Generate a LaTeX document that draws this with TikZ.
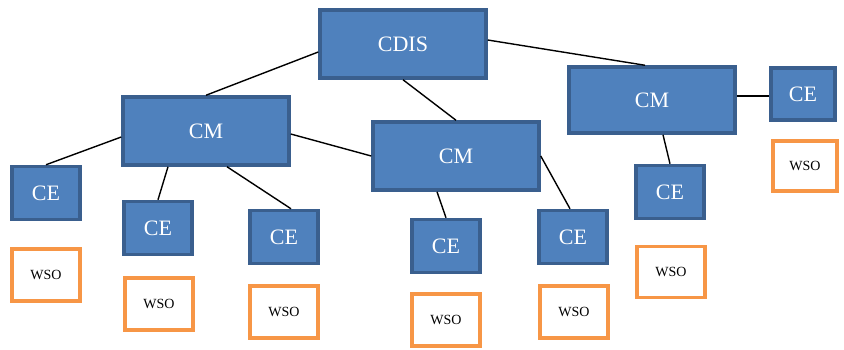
\documentclass[tikz,border=0pt]{standalone}
\usepackage{fontspec}
\setmainfont{Liberation Serif}
\definecolor{nodeblue}{HTML}{4F81BD}
\definecolor{rimblue}{HTML}{3A5F8E}
\definecolor{wsoorange}{HTML}{F79646}

\begin{document}
\begin{tikzpicture}[x=1pt,y=-1pt,
    bigbox/.style={draw=rimblue,fill=nodeblue,line width=3.5pt,inner sep=0pt,
        minimum width=166pt,minimum height=68pt,text=white,font=\fontsize{22}{24}\selectfont},
    cebox/.style={bigbox,minimum width=68pt,minimum height=53pt},
    wsobox/.style={draw=wsoorange,fill=white,line width=3.5pt,inner sep=0pt,
        minimum width=68pt,minimum height=52pt,font=\fontsize{14}{16}\selectfont},
    link/.style={line width=1.4pt}]
    \useasboundingbox (0,0) rectangle (844,349);
    % top level
    \node[bigbox] (cdis) at (403,44) {CDIS};
    \node[bigbox] (cml) at (206,131) {CM};
    \node[bigbox] (cmm) at (456,156) {CM};
    \node[bigbox,minimum height=66pt] (cmr) at (652,100) {CM};
    % CE boxes
    \node[cebox] (ce1) at (46,193) {CE};
    \node[cebox] (ce2) at (158,228) {CE};
    \node[cebox] (ce3) at (284,237) {CE};
    \node[cebox] (ce4) at (446,246) {CE};
    \node[cebox] (ce5) at (573,237) {CE};
    \node[cebox] (ce6) at (670,192) {CE};
    \node[cebox,minimum width=64pt,minimum height=52pt] (cer) at (803,94) {CE};
    % WSO boxes
    \node[wsobox] (w1) at (46,275) {WSO};
    \node[wsobox] (w2) at (159,304) {WSO};
    \node[wsobox] (w3) at (284,312) {WSO};
    \node[wsobox] (w4) at (446,320) {WSO};
    \node[wsobox] (w5) at (574,312) {WSO};
    \node[wsobox,minimum height=51pt] (w6) at (671,272) {WSO};
    \node[wsobox,minimum width=64pt,minimum height=50pt] (wr) at (805,166) {WSO};
    % links
    \draw[link] ([yshift=-8pt]cdis.west) -- (cml.north);
    \draw[link] ([yshift=4pt]cdis.east) -- ([xshift=-7pt]cmr.north);
    \draw[link] (cdis.south) -- (cmm.north);
    \draw[link] ([yshift=-6pt]cml.west) -- (ce1.north);
    \draw[link] ([xshift=-38pt]cml.south) -- (ce2.north);
    \draw[link] ([xshift=21pt]cml.south) -- ([xshift=7pt]ce3.north);
    \draw[link] ([yshift=-3pt]cml.east) -- (cmm.west);
    \draw[link] ([xshift=-19pt]cmm.south) -- (ce4.north);
    \draw[link] (cmm.east) -- ([xshift=-3pt]ce5.north);
    \draw[link] ([xshift=11pt]cmr.south) -- (ce6.north);
    \draw[link] ([yshift=4pt]cmr.east) -- ([yshift=-2pt]cer.west);
\end{tikzpicture}
\end{document}
